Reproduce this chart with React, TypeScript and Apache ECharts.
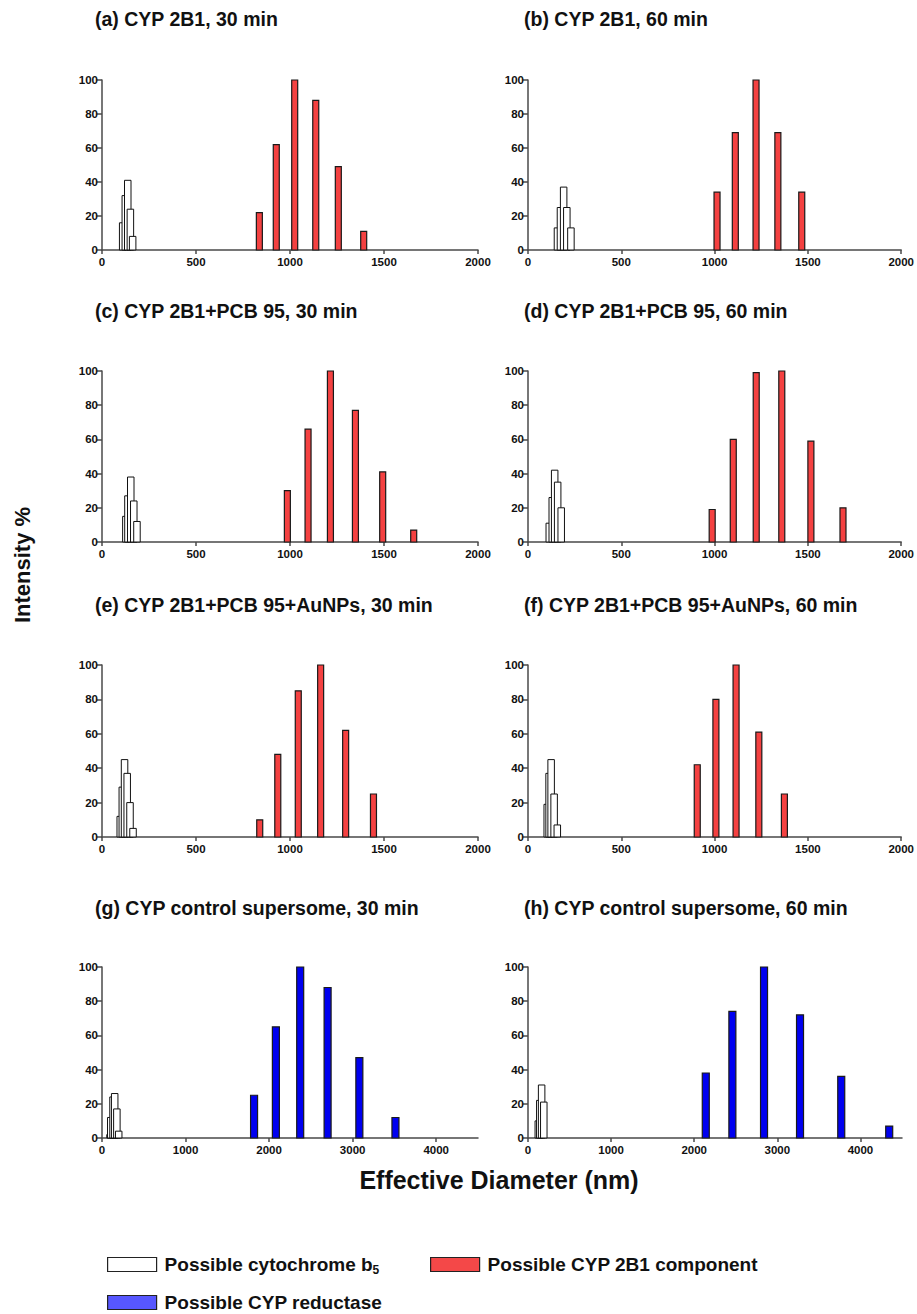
import React, { useEffect, useRef } from 'react';
import * as echarts from 'echarts';

// ---------- Data ----------
const panelTitles = [
  '(a) CYP 2B1, 30 min',
  '(b) CYP 2B1, 60 min',
  '(c) CYP 2B1+PCB 95, 30 min',
  '(d) CYP 2B1+PCB 95, 60 min',
  '(e) CYP 2B1+PCB 95+AuNPs, 30 min',
  '(f) CYP 2B1+PCB 95+AuNPs, 60 min',
  '(g) CYP control supersome, 30 min',
  '(h) CYP control supersome, 60 min',
];

const seriesNames = ['Possible cytochrome b5', 'Possible CYP 2B1 component', 'Possible CYP reductase'];

const xTicks2000 = [0, 500, 1000, 1500, 2000];
const xTicks4500 = [0, 1000, 2000, 3000, 4000];
const yTicks = [0, 20, 40, 60, 80, 100];

// (a)
const aB5X = [110, 124, 137, 151, 163];
const aB5Y = [16, 32, 41, 24, 8];
const a2B1X = [837, 927, 1025, 1137, 1257, 1392];
const a2B1Y = [22, 62, 100, 88, 49, 11];
// (b)
const bB5X = [158, 174, 191, 208, 230];
const bB5Y = [13, 25, 37, 25, 13];
const b2B1X = [1013, 1111, 1222, 1339, 1467];
const b2B1Y = [34, 69, 100, 69, 34];
// (c)
const cB5X = [127, 138, 153, 169, 186];
const cB5Y = [15, 27, 38, 24, 12];
const c2B1X = [986, 1096, 1215, 1348, 1493, 1658];
const c2B1Y = [30, 66, 100, 77, 41, 7];
// (d)
const dB5X = [114, 130, 143, 159, 178];
const dB5Y = [11, 26, 42, 35, 20];
const d2B1X = [987, 1100, 1223, 1360, 1516, 1688];
const d2B1Y = [19, 60, 99, 100, 59, 20];
// (e)
const eB5X = [97, 108, 120, 134, 149, 165];
const eB5Y = [12, 29, 45, 37, 20, 5];
const e2B1X = [839, 935, 1044, 1163, 1296, 1444];
const e2B1Y = [10, 48, 85, 100, 62, 25];
// (f)
const fB5X = [103, 113, 124, 140, 157];
const fB5Y = [19, 37, 45, 25, 7];
const f2B1X = [907, 1007, 1115, 1237, 1374];
const f2B1Y = [42, 80, 100, 61, 25];
// (g)
const gB5X = [96, 105, 132, 152, 178, 200];
const gB5Y = [2, 12, 24, 26, 17, 4];
const gRedX = [1820, 2081, 2372, 2700, 3080, 3512];
const gRedY = [25, 65, 100, 88, 47, 12];
// (h)
const hB5X = [124, 142, 164, 190];
const hB5Y = [10, 22, 31, 21];
const hRedX = [2139, 2459, 2840, 3273, 3769, 4346];
const hRedY = [38, 74, 100, 72, 36, 7];

const b5Xs = [aB5X, bB5X, cB5X, dB5X, eB5X, fB5X, gB5X, hB5X];
const b5Ys = [aB5Y, bB5Y, cB5Y, dB5Y, eB5Y, fB5Y, gB5Y, hB5Y];
const mainXs = [a2B1X, b2B1X, c2B1X, d2B1X, e2B1X, f2B1X, gRedX, hRedX];
const mainYs = [a2B1Y, b2B1Y, c2B1Y, d2B1Y, e2B1Y, f2B1Y, gRedY, hRedY];
const mainKind = [1, 1, 1, 1, 1, 1, 2, 2]; // index into seriesNames
const xMaxes = [2000, 2000, 2000, 2000, 2000, 2000, 4500, 4500];

// ---------- Styles ----------
const FONT = "'Liberation Sans', Arial, Helvetica, sans-serif";
const RED = '#f44141';
const BLUE = '#0000f0';
const LEG_RED = '#f44848';
const LEG_BLUE = '#5757ff';
const AXIS = '#4a4a4a';
const TEXT = '#111';

const colLeft = [102, 528];
const colWidth = [376, 374];
const rowTop = [80, 371, 665, 967];
const rowHeight = [170, 171, 172, 171];
const titleLeft = [95, 524];
const titleCenter = [20, 312, 606, 909];

const zip = (xs: number[], ys: number[]) => xs.map((x, i) => [x, ys[i]]);

const makeRender = (fill: string, stroke: string, w: number, lw: number) => (params: any, api: any) => {
  const x = api.value(0);
  const y = api.value(1);
  const top = api.coord([x, y]);
  const base = api.coord([x, 0]);
  return {
    type: 'rect',
    shape: { x: top[0] - w / 2, y: top[1], width: w, height: base[1] - top[1] },
    style: { fill, stroke, lineWidth: lw },
  };
};

function buildOption() {
  const grid: any[] = [];
  const xAxis: any[] = [];
  const yAxis: any[] = [];
  const series: any[] = [];
  const title: any[] = [];
  const plain = (v: number) => String(v);

  for (let i = 0; i < 8; i++) {
    const col = i % 2;
    const row = Math.floor(i / 2);
    grid.push({ left: colLeft[col], top: rowTop[row], width: colWidth[col], height: rowHeight[row], containLabel: false });
    const big = xMaxes[i] > 2000;
    const ticks = big ? xTicks4500 : xTicks2000;
    xAxis.push({
      type: 'value',
      gridIndex: i,
      min: 0,
      max: xMaxes[i],
      interval: big ? 1000 : 500,
      splitLine: { show: false },
      axisLine: { show: true, onZero: false, lineStyle: { color: AXIS, width: 1.5 } },
      axisTick: { show: true, length: 4, lineStyle: { color: AXIS, width: 1.5 }, customValues: ticks },
      axisLabel: { fontSize: 11.5, fontWeight: 'bold', color: TEXT, fontFamily: FONT, margin: 6, customValues: ticks, formatter: plain },
    });
    yAxis.push({
      type: 'value',
      gridIndex: i,
      min: 0,
      max: 100,
      interval: 20,
      splitLine: { show: false },
      axisLine: { show: true, onZero: false, lineStyle: { color: AXIS, width: 1.5 } },
      axisTick: { show: true, length: 5, lineStyle: { color: AXIS, width: 1.5 }, customValues: yTicks },
      axisLabel: { fontSize: 11.5, fontWeight: 'bold', color: TEXT, fontFamily: FONT, margin: 4, customValues: yTicks, formatter: plain },
    });
    title.push({
      text: panelTitles[i],
      left: titleLeft[col],
      top: titleCenter[row] - 11,
      padding: 0,
      textStyle: { fontSize: 19.5, fontWeight: 'bold', color: TEXT, fontFamily: FONT },
    });
    series.push({
      type: 'custom',
      name: seriesNames[0],
      xAxisIndex: i,
      yAxisIndex: i,
      clip: false,
      encode: { x: 0, y: 1 },
      itemStyle: { color: '#ffffff' },
      renderItem: makeRender('#ffffff', '#111', 6.5, 1),
      data: zip(b5Xs[i], b5Ys[i]),
    });
    const k = mainKind[i];
    series.push({
      type: 'custom',
      name: seriesNames[k],
      xAxisIndex: i,
      yAxisIndex: i,
      clip: false,
      encode: { x: 0, y: 1 },
      itemStyle: { color: k === 1 ? RED : BLUE },
      renderItem: makeRender(k === 1 ? RED : BLUE, '#1a1a1a', k === 1 ? 6 : 7, 1.2),
      data: zip(mainXs[i], mainYs[i]),
    });
  }

  const legendText = { fontSize: 19, fontWeight: 'bold', color: TEXT, fontFamily: FONT, padding: [0, 0, 0, 3],
    rich: { sub: { fontSize: 12, fontWeight: 'bold', color: TEXT, fontFamily: FONT, padding: [10, 0, 0, 0] } } };
  const legendCommon = { orient: 'horizontal', itemWidth: 49, itemHeight: 14, padding: 0, selectedMode: false, textStyle: legendText };
  const legend = [
    { ...legendCommon, left: 107, top: 1255,
      data: [{ name: seriesNames[0], icon: 'rect', itemStyle: { color: '#ffffff', borderColor: '#222', borderWidth: 1.2 } }],
      formatter: () => 'Possible cytochrome b{sub|5}' },
    { ...legendCommon, left: 430, top: 1255,
      data: [{ name: seriesNames[1], icon: 'rect', itemStyle: { color: LEG_RED, borderColor: '#222', borderWidth: 1.2 } }] },
    { ...legendCommon, left: 107, top: 1293,
      data: [{ name: seriesNames[2], icon: 'rect', itemStyle: { color: LEG_BLUE, borderColor: '#222', borderWidth: 1.2 } }] },
  ];

  const graphic = [
    {
      type: 'text',
      x: 22,
      y: 565,
      rotation: Math.PI / 2,
      style: { text: 'Intensity %', font: `bold 22px ${FONT}`, fill: TEXT, align: 'center', verticalAlign: 'middle' },
    },
    {
      type: 'text',
      x: 499,
      y: 1180,
      style: { text: 'Effective Diameter (nm)', font: `bold 25px ${FONT}`, fill: TEXT, align: 'center', verticalAlign: 'middle' },
    },
  ];

  return { animation: false, backgroundColor: '#ffffff', title, grid, xAxis, yAxis, series, legend, graphic };
}

export default function App() {
  const ref = useRef<HTMLDivElement>(null);
  useEffect(() => {
    if (!ref.current) return;
    const chart = echarts.init(ref.current, undefined, { renderer: 'svg' });
    chart.setOption(buildOption() as any);
    return () => chart.dispose();
  }, []);
  return <div ref={ref} style={{ position: 'absolute', left: 0, top: 0, width: 917, height: 1314, background: '#fff' }} />;
}
